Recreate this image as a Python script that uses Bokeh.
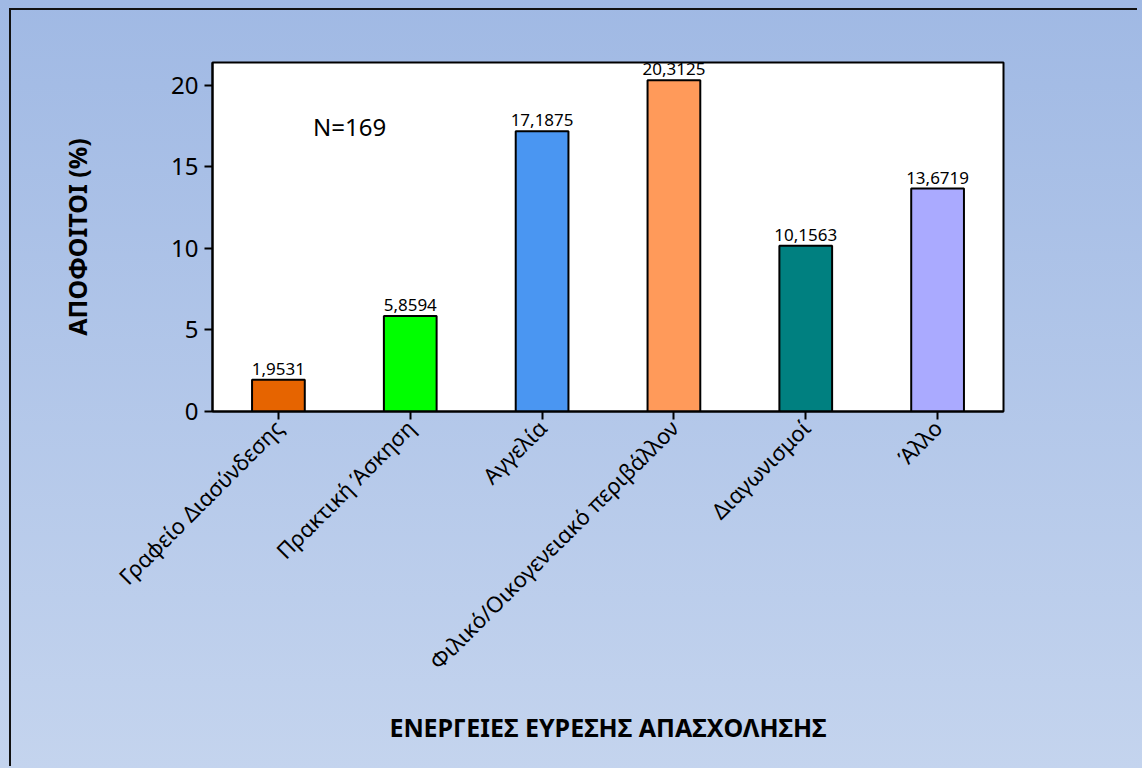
from bokeh.plotting import figure
from bokeh.models import ColumnDataSource, Range1d, Label, GlobalInlineStyleSheet
from bokeh.core.properties import value
from bokeh.embed import file_html
from bokeh.resources import INLINE

# ---- data ----
categories = ["Γραφείο Διασύνδεσης", "Πρακτική Άσκηση", "Αγγελία",
              "Φιλικό/Οικογενειακό περιβάλλον", "Διαγωνισμοί", "Άλλο"]
percent = [1.9531, 5.8594, 17.1875, 20.3125, 10.1563, 13.6719]
bar_colors = ["#E66400", "#00FF00", "#4A96F2", "#FF9A5A", "#008080", "#AAAAFF"]
value_labels = ["1,9531", "5,8594", "17,1875", "20,3125", "10,1563", "13,6719"]
y_ticks = [0, 5, 10, 15, 20]
n_text = "N=169"
x_title = "ΕΝΕΡΓΕΙΕΣ ΕΥΡΕΣΗΣ ΑΠΑΣΧΟΛΗΣΗΣ"
y_title = "ΑΠΟΦΟΙΤΟΙ (%)"

FONT = "Noto Sans"

src = ColumnDataSource(dict(cat=categories, val=percent, color=bar_colors, lab=value_labels))

bg = GlobalInlineStyleSheet(css="""
html { height: 100%; background: linear-gradient(to bottom, #a0b9e4 0%, #c4d4ee 100%); }
body { background: transparent; }
""")

p = figure(x_range=categories, y_range=Range1d(0, 21.4),
           frame_width=791, frame_height=349,
           min_border_left=201, min_border_right=134,
           min_border_top=52, min_border_bottom=355,
           output_backend="svg", toolbar_location=None,
           background_fill_color="white", border_fill_color=None,
           outline_line_color="black", outline_line_width=2)
p.stylesheets = [bg]
p.styles = {"border-top": "2px solid #111111", "border-left": "2px solid #111111",
            "margin-left": "9px", "margin-top": "8px"}

p.vbar(x="cat", top="val", width=0.4, fill_color="color",
       line_color="black", line_width=2, source=src)

p.text(x="cat", y="val", text="lab", source=src, text_align="center",
       text_baseline="bottom", y_offset=-5, text_font=value(FONT),
       text_font_size="17px", text_color="black")

p.add_layout(Label(x=1.04, y=17.45, text=n_text, text_align="center",
                   text_baseline="middle", text_font=FONT,
                   text_font_size="24px", text_color="black"))

p.xgrid.grid_line_color = None
p.ygrid.grid_line_color = None

p.yaxis.ticker = y_ticks
p.yaxis.minor_tick_line_color = None
p.yaxis.major_tick_out = 8
p.yaxis.major_tick_in = 0
p.yaxis.major_label_standoff = 6
p.yaxis.major_label_text_font = FONT
p.yaxis.major_label_text_font_size = "24px"
p.yaxis.major_label_text_color = "black"
p.yaxis.axis_label = y_title
p.yaxis.axis_label_text_font = FONT
p.yaxis.axis_label_text_font_style = "bold"
p.yaxis.axis_label_text_font_size = "25px"
p.yaxis.axis_label_text_color = "black"
p.yaxis.axis_label_standoff = 74

p.xaxis.major_tick_out = 8
p.xaxis.major_tick_in = 0
p.xaxis.major_label_orientation = 3.14159265 / 4
p.xaxis.major_label_standoff = 4
p.xaxis.major_label_text_font = FONT
p.xaxis.major_label_text_font_size = "22px"
p.xaxis.major_label_text_color = "black"
p.xaxis.axis_label = x_title
p.xaxis.axis_label_text_font = FONT
p.xaxis.axis_label_text_font_style = "bold"
p.xaxis.axis_label_text_font_size = "25px"
p.xaxis.axis_label_text_color = "black"
p.xaxis.axis_label_standoff = 21

for ax in (p.xaxis, p.yaxis):
    ax.axis_line_width = 2
    ax.axis_line_color = "black"
    ax.major_tick_line_width = 2
    ax.major_tick_line_color = "black"

open("out.html", "w").write(file_html(p, INLINE))
